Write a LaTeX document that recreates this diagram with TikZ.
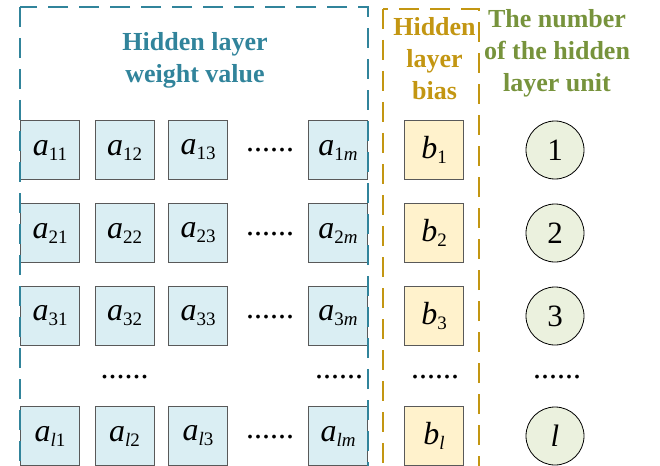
\documentclass[tikz,border=0pt]{standalone}
\usepackage{fontspec}
\setmainfont{Liberation Serif}
\definecolor{tealc}{HTML}{31849B}
\definecolor{goldc}{HTML}{C39612}
\definecolor{greenc}{HTML}{77933C}
\definecolor{wfill}{HTML}{DAEEF3}
\definecolor{bfill}{HTML}{FFF2CC}
\definecolor{cfill}{HTML}{EBF1DE}
\definecolor{boxgray}{HTML}{595959}
\newcommand\elem[2]{\textit{#1}\raisebox{-5pt}{\fontsize{19}{19}\selectfont #2}}
\tikzset{
  wbox/.style={draw=boxgray, line width=1pt, fill=wfill, minimum size=59pt, inner sep=0pt, font=\fontsize{32}{32}\selectfont},
  bbox/.style={wbox, fill=bfill},
  circ/.style={circle, draw=black, line width=0.8pt, fill=cfill, minimum size=58pt, inner sep=0pt, font=\fontsize{31}{31}\selectfont},
  dotsn/.style={anchor=base, inner sep=0pt, font=\fontsize{32}{32}\selectfont},
  ttl/.style={align=center, anchor=base, inner sep=0pt, font=\fontsize{26}{32}\selectfont\bfseries},
  tealdash/.style={draw=tealc, line width=2.6pt, dash pattern=on 20pt off 11pt},
  golddash/.style={draw=goldc, line width=2.6pt, dash pattern=on 20pt off 11pt}
}
\begin{document}
\begin{tikzpicture}[x=1pt,y=-1pt]
\useasboundingbox (0,0) rectangle (660,465);
\clip (0,0) rectangle (660,465);
% weight squares
\node[wbox] (a11) at (50,150) {\elem{a}{11}};
\node[wbox] (a12) at (124.5,150) {\elem{a}{12}};
\node[wbox] (a13) at (198,150) {\elem{a}{13}};
\node[dotsn] (d1) at (270,152) {......};
\node[wbox] (a1m) at (338,150) {\elem{a}{1\textit{m}}};
\node[wbox] (a21) at (50,233) {\elem{a}{21}};
\node[wbox] (a22) at (124.5,233) {\elem{a}{22}};
\node[wbox] (a23) at (198,233) {\elem{a}{23}};
\node[dotsn] (d2) at (270,235) {......};
\node[wbox] (a2m) at (338,233) {\elem{a}{2\textit{m}}};
\node[wbox] (a31) at (50,316) {\elem{a}{31}};
\node[wbox] (a32) at (124.5,316) {\elem{a}{32}};
\node[wbox] (a33) at (198,316) {\elem{a}{33}};
\node[dotsn] (d3) at (270,318) {......};
\node[wbox] (a3m) at (338,316) {\elem{a}{3\textit{m}}};
\node[dotsn] (dc2) at (124.5,378) {......};
\node[dotsn] (dcm) at (339,378) {......};
\node[wbox] (al1) at (50,436) {\elem{a}{\textit{l}1}};
\node[wbox] (al2) at (124.5,436) {\elem{a}{\textit{l}2}};
\node[wbox] (al3) at (198,436) {\elem{a}{\textit{l}3}};
\node[dotsn] (dl) at (270,438) {......};
\node[wbox] (alm) at (338,436) {\elem{a}{\textit{lm}}};
% bias squares
\node[bbox] (b1) at (434,150) {\elem{b}{1}};
\node[bbox] (b2) at (434,233) {\elem{b}{2}};
\node[bbox] (b3) at (434,316) {\elem{b}{3}};
\node[dotsn] (db) at (435,378) {......};
\node[bbox] (bl) at (434,436) {\elem{b}{\textit{l}}};
% unit circles
\node[circ] (u1) at (555,150) {1};
\node[circ] (u2) at (555,233) {2};
\node[circ] (u3) at (555,316) {3};
\node[dotsn] (du) at (557,378) {......};
\node[circ] (ul) at (555,436) {\textit{l}};
% dashed frames
\draw[tealdash] (20,7) rectangle (368,520);
\draw[golddash] (383,9) rectangle (479,520);
% titles (anchor base = baseline of last line)
\node[ttl, text=tealc] (tw) at (195,83) {Hidden layer\\weight value};
\node[ttl, text=goldc] (tb) at (434.5,100) {Hidden\\layer\\bias};
\node[ttl, text=greenc] (tu) at (557,92) {The number\\of the hidden\\layer unit};
\end{tikzpicture}
\end{document}
